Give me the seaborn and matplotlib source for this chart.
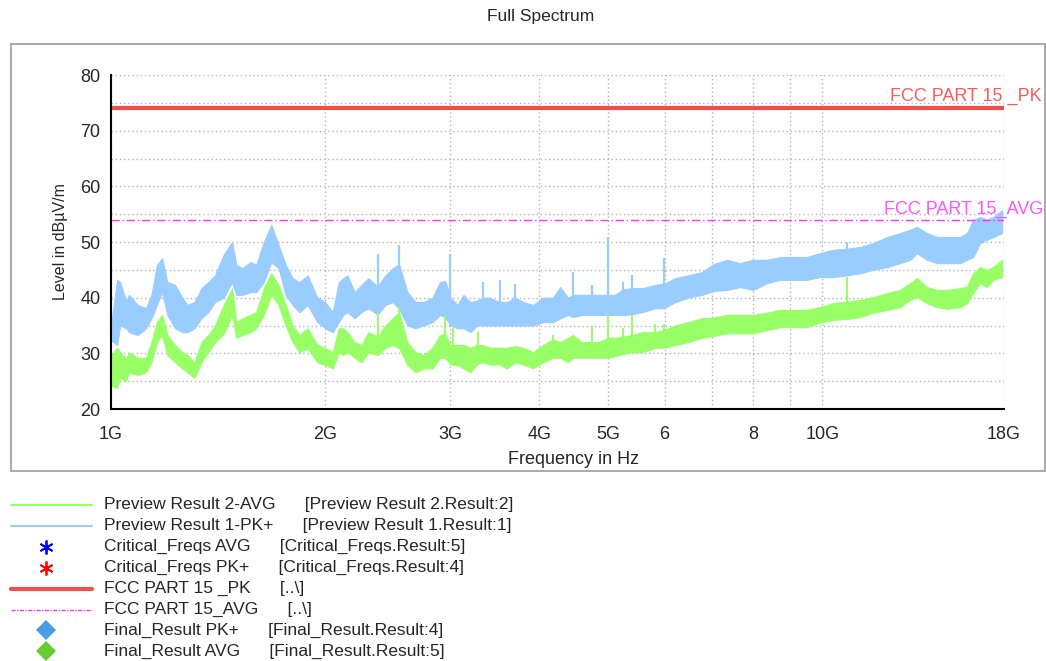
import numpy as np
import matplotlib
matplotlib.use("Agg")
import matplotlib.pyplot as plt
import seaborn as sns
from matplotlib.lines import Line2D
from matplotlib.patches import Rectangle
from matplotlib.ticker import FixedLocator, FixedFormatter, MultipleLocator, NullFormatter

# ---- measured spectrum envelopes (frequency in GHz, level in dBuV/m) ----
freq_ghz = [1.00, 1.02, 1.03, 1.05, 1.06, 1.09, 1.12, 1.14, 1.16, 1.18,
            1.20, 1.23, 1.26, 1.28, 1.31, 1.34, 1.37, 1.40, 1.44, 1.48,
            1.50, 1.53, 1.57, 1.60, 1.64, 1.68, 1.72, 1.76, 1.80, 1.84,
            1.89, 1.95, 2.00, 2.05, 2.09, 2.12, 2.15, 2.20, 2.25, 2.30,
            2.37, 2.43, 2.49, 2.54, 2.61, 2.68, 2.75, 2.83, 2.90, 2.95,
            3.00, 3.07, 3.13, 3.20, 3.27, 3.33, 3.41, 3.52, 3.60, 3.70,
            3.80, 3.92, 4.05, 4.18, 4.28, 4.39, 4.46, 4.59, 4.75, 4.84,
            5.00, 5.11, 5.25, 5.40, 5.58, 5.82, 5.99, 6.21, 6.47, 6.77,
            7.02, 7.35, 7.66, 7.99, 8.36, 8.72, 9.10, 9.51, 9.92, 10.35,
            10.83, 11.30, 11.78, 12.33, 12.86, 13.28, 13.58, 14.03, 14.50, 14.97,
            15.62, 15.97, 16.29, 16.66, 17.04, 17.38, 17.89]

# Preview Result 1-PK+ (upper / lower edge of the trace)
pk_hi = [35.0, 43.2, 42.8, 39.5, 40.5, 38.7, 38.1, 40.5, 45.9, 47.1,
         42.8, 42.3, 40.0, 38.7, 39.2, 41.7, 42.8, 44.0, 47.7, 50.0,
         45.9, 45.3, 46.4, 45.9, 50.0, 53.1, 49.5, 45.9, 43.5, 42.8,
         44.0, 40.0, 39.2, 37.4, 42.8, 43.5, 44.0, 41.0, 42.3, 43.5,
         42.0, 44.0, 45.3, 46.0, 41.0, 39.2, 39.2, 40.0, 42.8, 43.0,
         40.0, 38.7, 40.5, 39.2, 39.5, 40.0, 40.0, 39.2, 39.2, 40.0,
         39.2, 38.7, 40.0, 40.0, 41.9, 40.0, 40.5, 40.5, 40.5, 40.5,
         40.5, 40.5, 41.5, 41.7, 41.7, 42.3, 42.5, 43.5, 44.0, 44.6,
         46.0, 46.8, 46.2, 46.8, 46.8, 47.3, 47.3, 47.3, 48.0, 48.6,
         48.8, 49.1, 49.8, 50.9, 51.6, 52.2, 52.7, 51.6, 50.9, 50.9,
         50.9, 51.6, 54.0, 54.5, 54.0, 54.5, 55.7]
pk_lo = [32.4, 31.5, 35.0, 34.5, 33.8, 33.3, 34.5, 36.3, 38.7, 41.0,
         36.9, 34.5, 33.8, 33.8, 34.5, 36.3, 37.4, 39.2, 40.0, 42.8,
         40.5, 40.5, 41.0, 41.0, 42.8, 46.4, 45.3, 40.5, 38.7, 37.4,
         38.7, 35.6, 34.5, 33.8, 35.6, 36.9, 37.4, 36.3, 37.4, 38.1,
         37.0, 38.7, 39.2, 38.0, 35.0, 34.5, 35.0, 35.6, 36.9, 36.5,
         35.0, 34.5, 34.5, 33.8, 35.0, 35.0, 35.0, 35.0, 35.0, 35.0,
         35.0, 35.0, 35.6, 35.6, 36.3, 36.9, 36.5, 36.9, 36.9, 36.9,
         36.9, 36.9, 36.9, 37.0, 37.4, 38.1, 38.1, 39.2, 40.0, 40.5,
         41.2, 41.4, 41.9, 41.4, 42.6, 43.2, 43.2, 43.2, 43.7, 43.7,
         44.0, 44.4, 45.0, 45.5, 46.2, 46.8, 48.0, 46.8, 46.2, 46.2,
         46.2, 46.8, 47.3, 49.8, 50.4, 50.9, 51.6]

# Preview Result 2-AVG (upper / lower edge of the trace)
avg_hi = [29.6, 31.0, 30.2, 29.0, 30.2, 29.2, 29.2, 32.0, 35.6, 36.9,
          33.3, 31.5, 30.2, 29.7, 28.4, 32.0, 33.3, 35.0, 38.7, 41.7,
          35.6, 36.3, 36.9, 37.4, 41.7, 44.4, 42.3, 38.7, 35.0, 33.3,
          34.5, 31.5, 31.0, 30.2, 34.5, 34.5, 33.8, 32.0, 31.5, 33.8,
          33.0, 35.0, 36.3, 37.4, 32.0, 30.2, 29.7, 31.0, 33.3, 33.5,
          31.5, 31.5, 31.5, 31.0, 31.5, 31.5, 31.0, 31.0, 31.0, 31.3,
          31.0, 30.2, 31.5, 32.5, 32.0, 32.8, 33.3, 32.0, 32.0, 32.0,
          32.8, 32.8, 33.0, 33.3, 33.8, 33.8, 34.2, 35.0, 35.6, 36.3,
          36.4, 36.9, 36.9, 36.9, 37.3, 37.8, 37.8, 37.8, 38.3, 39.0,
          39.3, 39.6, 40.1, 40.8, 41.4, 42.6, 43.5, 41.9, 41.4, 41.4,
          41.7, 42.0, 44.4, 45.5, 45.0, 45.5, 46.8]
avg_lo = [24.2, 23.8, 25.6, 25.0, 26.6, 26.1, 26.6, 28.4, 32.0, 33.3,
          29.7, 28.4, 27.3, 26.6, 25.6, 28.4, 30.2, 32.0, 33.5, 36.9,
          32.8, 33.3, 33.8, 34.5, 36.9, 40.5, 38.7, 35.0, 32.0, 30.2,
          30.9, 28.4, 27.9, 27.3, 30.2, 29.7, 30.2, 29.2, 28.4, 30.2,
          29.7, 31.0, 31.5, 31.0, 27.9, 26.6, 27.3, 27.3, 29.2, 29.2,
          28.0, 27.9, 27.3, 26.6, 28.0, 28.4, 28.0, 28.0, 27.3, 28.4,
          28.0, 27.3, 28.4, 29.2, 29.2, 28.4, 29.2, 29.2, 29.2, 29.2,
          29.2, 29.5, 29.9, 30.2, 30.2, 31.0, 31.0, 31.5, 32.0, 32.8,
          33.1, 33.6, 33.6, 33.6, 34.2, 34.7, 34.7, 34.7, 35.5, 36.0,
          36.2, 36.5, 37.3, 37.8, 38.3, 39.6, 40.1, 39.0, 38.3, 38.0,
          38.3, 39.0, 40.8, 42.6, 41.9, 43.2, 43.7]

# narrow single-frequency peaks rising above each trace
pk_spike_freq = [2.37, 2.54, 3.00, 3.33, 3.52, 3.70, 4.46, 4.75, 5.00, 5.25,
                 5.40, 5.99, 10.83]
pk_spike_level = [47.8, 49.5, 47.8, 42.8, 43.2, 42.5, 44.6, 42.3, 50.9, 42.8,
                  44.0, 47.1, 50.0]
avg_spike_freq = [2.37, 2.54, 2.95, 3.03, 3.28, 4.18, 4.75, 5.00, 5.25, 5.40,
                  5.82, 5.99, 10.83]
avg_spike_level = [37.2, 38.3, 36.9, 34.6, 33.8, 33.3, 35.0, 36.9, 34.5, 36.9,
                   35.3, 35.3, 43.7]

# limit lines
limit_freq = [1.0, 18.0]
fcc_pk_level = [74.0, 74.0]
fcc_avg_level = [54.0, 54.0]

x_ticks = [1, 2, 3, 4, 5, 6, 7, 8, 9, 10, 18]
x_tick_labels = ["1G", "2G", "3G", "4G", "5G", "6", "", "8", "", "10G", "18G"]
y_ticks = [20, 30, 40, 50, 60, 70, 80]

legend_labels = [
    "Preview Result 2-AVG      [Preview Result 2.Result:2]",
    "Preview Result 1-PK+      [Preview Result 1.Result:1]",
    "Critical_Freqs AVG      [Critical_Freqs.Result:5]",
    "Critical_Freqs PK+      [Critical_Freqs.Result:4]",
    "FCC PART 15 _PK      [..\\]",
    "FCC PART 15_AVG      [..\\]",
    "Final_Result PK+      [Final_Result.Result:4]",
    "Final_Result AVG      [Final_Result.Result:5]",
]

# ---- colours ----
C_PK = "#99ccff"
C_AVG = "#99ff66"
C_LIM_PK = "#f24d4d"
C_LIM_PK_TXT = "#ff5a5a"
C_LIM_AVG = "#ff33ff"
C_LIM_AVG_TXT = "#ff55ff"
C_GRID = "#b4b4b4"

sns.set_style("white")
plt.rcParams["font.family"] = ["Liberation Sans", "DejaVu Sans"]

W, H = 1046, 661
fig = plt.figure(figsize=(W / 100, H / 100), dpi=100)
fig.patch.set_facecolor("white")


def fx(px):
    return px / W


def fy(py):
    return 1 - py / H


# outer panel frame
fig.add_artist(Rectangle((fx(11), fy(471)), fx(1034), 427 / H,
                         transform=fig.transFigure, fill=False,
                         ec="#acacac", lw=1.5, zorder=0))

ax = fig.add_axes([fx(111), fy(409), fx(1004) - fx(111), (409 - 75) / H])
ax.set_facecolor("white")
ax.set_xscale("log")

f = np.array(freq_ghz)

# traces: filled envelope between lower and upper edge
ax.fill_between(f, pk_lo, pk_hi, color=C_PK, lw=0.8, edgecolor=C_PK, zorder=2)
ax.fill_between(f, avg_lo, avg_hi, color=C_AVG, lw=0.8, edgecolor=C_AVG, zorder=3)
ax.vlines(pk_spike_freq, np.interp(np.log(pk_spike_freq), np.log(f), pk_lo),
          pk_spike_level, color=C_PK, lw=1.6, zorder=2)
ax.vlines(avg_spike_freq, np.interp(np.log(avg_spike_freq), np.log(f), avg_lo),
          avg_spike_level, color=C_AVG, lw=1.4, zorder=3)

# limit lines
sns.lineplot(x=limit_freq, y=fcc_pk_level, ax=ax, color=C_LIM_PK, lw=3,
             estimator=None, zorder=5)
sns.lineplot(x=limit_freq, y=fcc_avg_level, ax=ax, color=C_LIM_AVG, lw=1,
             estimator=None, zorder=5, dashes=False)
ax.lines[-1].set_linestyle((0, (6, 2, 1, 2)))

ax.annotate("FCC PART 15 _PK", xy=(1.0, fcc_pk_level[0]),
            xycoords=("axes fraction", "data"), xytext=(38, 3),
            textcoords="offset pixels", ha="right", va="bottom",
            color=C_LIM_PK_TXT, fontsize=13, annotation_clip=False)
ax.annotate("FCC PART 15_AVG", xy=(1.0, fcc_avg_level[0]),
            xycoords=("axes fraction", "data"), xytext=(39, 2),
            textcoords="offset pixels", ha="right", va="bottom",
            color=C_LIM_AVG_TXT, fontsize=13, annotation_clip=False)

# axes, ticks, grid
ax.set_xlim(1, 18)
ax.set_ylim(20, 80)
ax.xaxis.set_major_locator(FixedLocator(x_ticks))
ax.xaxis.set_major_formatter(FixedFormatter(x_tick_labels))
ax.xaxis.set_minor_locator(FixedLocator([]))
ax.yaxis.set_major_locator(FixedLocator(y_ticks))
ax.yaxis.set_minor_locator(MultipleLocator(5))
ax.yaxis.set_minor_formatter(NullFormatter())

for side in ("top", "right"):
    ax.spines[side].set_visible(False)
for side in ("left", "bottom"):
    ax.spines[side].set_color("black")
    ax.spines[side].set_linewidth(1.5)
    ax.spines[side].set_zorder(6)

ax.tick_params(axis="both", which="major", direction="inout", length=11,
               width=1.4, color="black", labelsize=13)
ax.tick_params(axis="y", which="minor", direction="inout", length=9,
               width=1.4, color="black")
ax.tick_params(axis="y", which="major", pad=2)
ax.tick_params(axis="x", which="major", pad=7)

ax.grid(True, axis="x", which="major", ls=(0, (1, 2)), color=C_GRID, lw=1)
ax.grid(True, axis="y", which="both", ls=(0, (1, 2)), color=C_GRID, lw=1)
ax.set_axisbelow(True)

ax.set_xlabel("")
ax.set_ylabel("")
fig.text(fx(574), fy(460), "Frequency in Hz", ha="center", va="center",
         fontsize=13)
fig.text(fx(60), fy(242), "Level in dBµV/m", ha="center", va="center",
         rotation=90, fontsize=11.5)
fig.text(fx(541), fy(16), "Full Spectrum", ha="center", va="center",
         fontsize=12.5)

# legend below the panel
row_y0, row_dy = 505, 20.9
samples = [
    dict(kind="line", color=C_AVG, lw=1.5, ls="-"),
    dict(kind="line", color=C_PK, lw=1.5, ls="-"),
    dict(kind="marker", color="#0000ff", marker=(6, 2, 0), ms=10, mew=1.3),
    dict(kind="marker", color="#ff0000", marker=(6, 2, 0), ms=10, mew=1.3),
    dict(kind="line", color=C_LIM_PK, lw=3, ls="-"),
    dict(kind="line", color=C_LIM_AVG, lw=1, ls=(0, (3, 1, 1, 1))),
    dict(kind="marker", color="#4a9de3", marker="D", ms=10, mew=0),
    dict(kind="marker", color="#66cc33", marker="D", ms=10, mew=0),
]
for i, (label, s) in enumerate(zip(legend_labels, samples)):
    y = fy(row_y0 + i * row_dy)
    if s["kind"] == "line":
        fig.add_artist(Line2D([fx(11), fx(92)], [y, y], transform=fig.transFigure,
                              color=s["color"], lw=s["lw"], ls=s["ls"]))
    else:
        fig.add_artist(Line2D([fx(46)], [y], transform=fig.transFigure,
                              color=s["color"], marker=s["marker"], ms=s["ms"],
                              mew=s["mew"], ls="none"))
    fig.text(fx(104), y, label, ha="left", va="center", fontsize=12.5)

fig.savefig("out.png", dpi=100, facecolor="white")
